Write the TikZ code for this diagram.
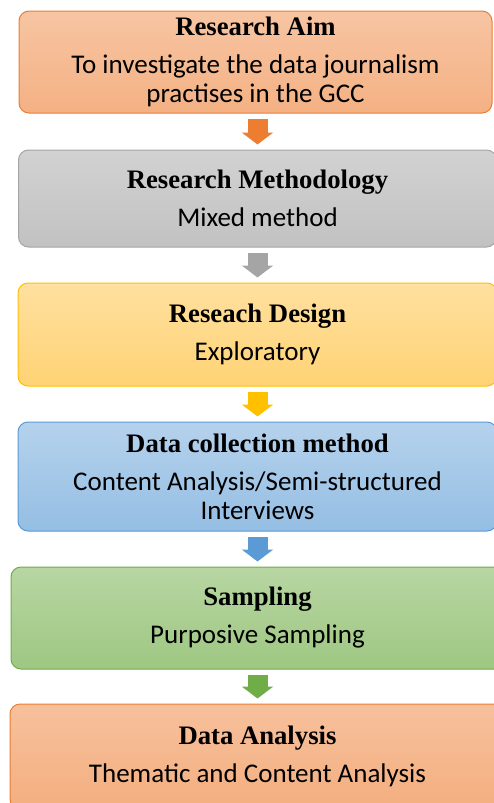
\documentclass[tikz,border=0pt]{standalone}
\usepackage{fontspec}
\setmainfont{Liberation Serif}
\newfontfamily\calib{Carlito}
\usetikzlibrary{arrows.meta,positioning}

\definecolor{acOrange}{HTML}{ED7D31}
\definecolor{acGray}{HTML}{A5A5A5}
\definecolor{acYellow}{HTML}{FFC000}
\definecolor{acBlue}{HTML}{5B9BD5}
\definecolor{acGreen}{HTML}{70AD47}
\definecolor{yellowTop}{HTML}{FFE0A0}
\definecolor{yellowBot}{HTML}{FFD374}

\tikzset{
    stagebox/.style n args={3}{draw=#1, line width=1pt, rounded corners=10pt,
        top color=#2, bottom color=#3, align=center, inner sep=0pt,
        font=\fontsize{27}{29}\selectfont},
    blockarrow/.style={draw=#1, line width=20pt, shorten <=5pt, shorten >=5pt,
        -{Triangle[length=12pt,width=31pt,fill=#1]}}
}
\newcommand{\stagetitle}[1]{{\fontsize{26.7}{29}\selectfont\textbf{#1}}\\[9pt]}

\begin{document}
\begin{tikzpicture}[x=1pt,y=-1pt]
    \useasboundingbox (0,0) rectangle (493,803);

    % Boxes
    \node[stagebox={acOrange}{acOrange!45!white}{acOrange!60!white}, minimum width=473pt, minimum height=102pt]
        (aim) at (255.5,62) {\stagetitle{Research Aim}{\calib To investigate the data journalism}\\{\calib practises in the GCC}};
    \node[stagebox={acGray}{acGray!50!white}{acGray!68!white}, minimum width=478pt, minimum height=97pt]
        (method) at (257.5,198.5) {\stagetitle{Research Methodology}{\calib Mixed method}};
    \node[stagebox={acYellow}{yellowTop}{yellowBot}, minimum width=479pt, minimum height=103pt]
        (design) at (257.5,334.5) {\stagetitle{Reseach Design}{\calib Exploratory}};
    \node[stagebox={acBlue}{acBlue!45!white}{acBlue!65!white}, minimum width=479pt, minimum height=109pt]
        (collect) at (257.5,476.5) {\stagetitle{Data collection method}{\calib Content Analysis/Semi-structured}\\{\calib Interviews}};
    \node[stagebox={acGreen}{acGreen!50!white}{acGreen!68!white}, minimum width=493pt, minimum height=102pt]
        (sample) at (257.5,618) {\stagetitle{Sampling}{\calib Purposive Sampling}};
    \node[stagebox={acOrange}{acOrange!48!white}{acOrange!62!white}, minimum width=495pt, minimum height=105pt]
        (analysis) at (257.5,756.5) {\stagetitle{Data Analysis}{\calib Thematic and Content Analysis}};

    % Arrows
    \draw[blockarrow=acOrange] (aim.south -| method.north) -- (method.north);
    \draw[blockarrow=acGray] (method.south) -- (design.north);
    \draw[blockarrow=acYellow] (design.south) -- (collect.north);
    \draw[blockarrow=acBlue] (collect.south) -- (sample.north);
    \draw[blockarrow=acGreen] (sample.south) -- (analysis.north);
\end{tikzpicture}
\end{document}
